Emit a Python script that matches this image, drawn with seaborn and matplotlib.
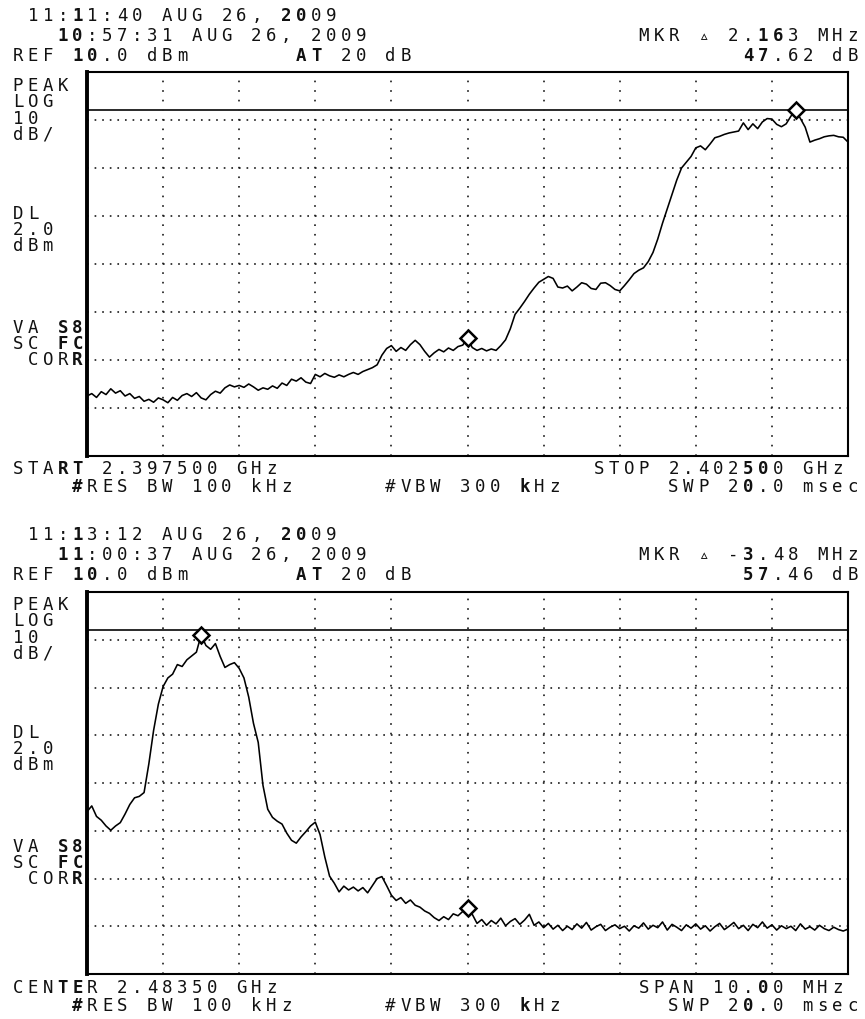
import numpy as np
import matplotlib
matplotlib.use("Agg")
import matplotlib.pyplot as plt
import seaborn as sns

# ---- sweep 1: START 2.397500 GHz, STOP 2.402500 GHz (values in MHz / dBm)
top_start, top_stop = 2397.5, 2402.5
top_trace = [
    -57.5, -57.0, -57.8, -56.6, -57.2, -56.0, -56.9, -56.4, -57.5, -57.0, -58.0, -57.6, -58.6, -58.2, -58.8, -57.9,
    -58.3, -58.9, -57.8, -58.4, -57.4, -57.0, -57.6, -56.8, -57.9, -58.3, -57.2, -56.5, -56.9, -55.8, -55.2, -55.6,
    -55.3, -55.7, -55.0, -55.6, -56.3, -55.8, -56.1, -55.4, -55.9, -54.8, -55.3, -54.0, -54.4, -53.7, -54.6, -54.9,
    -53.0, -53.5, -52.8, -53.3, -53.6, -53.1, -53.5, -53.0, -52.6, -53.0, -52.4, -52.0, -51.6, -51.0, -49.0, -47.6,
    -47.0, -48.2, -47.4, -48.0, -46.8, -45.9, -46.8, -48.2, -49.4, -48.5, -47.8, -48.3, -47.5, -48.0, -47.2, -46.9,
    -45.5, -47.4, -48.0, -47.6, -48.1, -47.7, -48.0, -47.0, -45.8, -43.5, -40.5, -39.2, -37.8, -36.3, -35.0, -33.8,
    -33.2, -32.6, -33.0, -34.8, -35.0, -34.6, -35.6, -34.8, -33.9, -34.2, -35.1, -35.3, -34.0, -33.9, -34.5, -35.3,
    -35.6, -34.5, -33.3, -32.0, -31.3, -30.8, -29.5, -27.6, -24.8, -21.5, -18.5, -15.5, -12.5, -10.0, -8.8, -7.6,
    -5.8, -5.4, -6.2, -5.0, -3.7, -3.4, -3.0, -2.7, -2.5, -2.3, -0.6, -2.0, -0.8, -1.8, -0.4, 0.3,
    0.2, -0.9, -1.4, -0.8, 0.8, 2.0, 0.3, -1.5, -4.6, -4.2, -3.9, -3.5, -3.3, -3.2, -3.5, -3.6,
    -4.6,
]
top_markers = [80, 149]

# ---- sweep 2: CENTER 2.48350 GHz, SPAN 10.00 MHz
bot_start, bot_stop = 2478.5, 2488.5
bot_trace = [
    -36.0, -34.8, -37.0, -37.8, -39.0, -39.9, -39.0, -38.3, -36.5, -34.5, -33.1, -32.8, -32.0, -26.0, -19.0, -13.5,
    -9.8, -8.0, -7.2, -5.2, -5.6, -4.2, -3.4, -2.6, 1.0, -1.2, -2.0, -0.8, -3.5, -5.8, -5.2, -4.8,
    -6.0, -8.0, -12.0, -17.5, -21.5, -30.5, -35.5, -37.2, -38.0, -38.6, -40.5, -42.0, -42.6, -41.3, -40.2, -39.0,
    -38.2, -40.8, -45.5, -49.5, -51.0, -52.8, -51.6, -52.4, -51.8, -52.6, -51.9, -53.0, -51.5, -50.0, -49.6, -51.5,
    -53.5, -54.6, -54.0, -55.2, -54.5, -55.6, -56.0, -56.8, -57.3, -58.2, -58.8, -58.0, -58.6, -57.4, -57.8, -56.9,
    -56.2, -57.5, -59.4, -58.6, -59.8, -58.8, -59.5, -58.3, -59.9, -59.0, -58.4, -59.6, -58.7, -57.5, -59.8, -59.1,
    -60.3, -59.4, -60.6, -59.8, -60.9, -60.0, -60.7, -59.5, -60.4, -59.2, -60.8, -60.1, -59.6, -60.9, -60.2, -59.7,
    -60.5, -60.0, -61.0, -59.9, -60.4, -59.3, -60.6, -59.8, -60.3, -59.1, -60.8, -59.6, -60.2, -60.9, -59.7, -60.4,
    -59.5, -60.6, -59.9, -61.0, -60.1, -59.4, -60.7, -60.0, -59.2, -60.5, -59.8, -60.9, -59.6, -60.3, -59.1, -60.4,
    -59.7, -60.8, -59.9, -60.5, -60.0, -60.9, -59.5, -60.6, -60.1, -60.8, -59.8, -60.5, -60.9, -60.2, -60.7, -61.0,
    -60.6,
]
bot_markers = [24, 80]

ref_level = 10.0
display_line = 2.0
db_per_div = 10

# ---- screen annotations (text, and which characters the plotter printed heavier)
top_date1 = (" 11:11:40 AUG 26, 2009", [4, 18, 19])
top_date2 = ("10:57:31 AUG 26, 2009", [0, 1])
top_mkr_f = ("MKR \u25b5 2.163 MHz", [8, 9])
top_mkr_a = ("47.62 dB", [0, 1])
top_x1 = ("START 2.397500 GHz", [3, 4])
top_x2 = ("STOP 2.402500 GHz", [10, 11])

bot_date1 = (" 11:13:12 AUG 26, 2009", [4, 18, 19])
bot_date2 = ("11:00:37 AUG 26, 2009", [0, 1])
bot_mkr_f = ("MKR \u25b5 -3.48 MHz", [7])
bot_mkr_a = ("57.46 dB", [0, 1])
bot_x1 = ("CENTER 2.48350 GHz", [3, 4])
bot_x2 = ("SPAN 10.00 MHz", [8])

ref_txt = ("REF 10.0 dBm", [4, 5])
att_txt = ("AT 20 dB", [0, 1])
rbw_txt = ("#RES BW 100 kHz", [0])
vbw_txt = ("#VBW 300 kHz", [9])
swp_txt = ("SWP 20.0 msec", [5])
side_labels = ["PEAK", "LOG", "10", "dB/"]
dl_labels = ["DL", "2.0", "dBm"]
corr_labels = [("VA S8", [3, 4]), ("SC FC", [3, 4]), (" CORR", [4])]

W, H = 865, 1019
PITCH = 14.9
X0 = 18.0

sns.set_style("white")
plt.rcParams["lines.scale_dashes"] = False
plt.rcParams["font.family"] = ["DejaVu Sans Mono", "DejaVu Sans"]

fig = plt.figure(figsize=(W / 100, H / 100), dpi=100)


def put(col, y, item):
    # place characters on the analyzer's fixed character grid
    s, heavy = item if isinstance(item, tuple) else (item, [])
    for k, ch in enumerate(s):
        if ch == " ":
            continue
        fig.text((X0 + (col + k) * PITCH) / W, 1 - (y + 6) / H, ch,
                 ha="center", va="baseline", fontsize=12.5,
                 family=["DejaVu Sans Mono", "DejaVu Sans"],
                 fontweight="bold" if k in heavy else "normal", color="#111111")


def panel(top_px, bot_px, start, stop, trace, markers):
    left, right = 87, 848
    ax = fig.add_axes([left / W, 1 - bot_px / H, (right - left) / W, (bot_px - top_px) / H])
    freqs = np.linspace(start, stop, len(trace))
    amp = np.array(trace)
    sns.lineplot(x=freqs, y=amp, ax=ax, color="black", linewidth=1.15,
                 estimator=None, zorder=3)
    ax.plot(freqs[markers], amp[markers], linestyle="none", marker="D", ms=8.5,
            mfc="white", mec="black", mew=1.8, zorder=4)
    ax.axhline(display_line, color="#2a2a2a", lw=1.4, zorder=2)
    ax.set_xlim(start, stop)
    ax.set_ylim(ref_level - 8 * db_per_div, ref_level)
    ax.set_xticks(np.linspace(start, stop, 11)[1:-1])
    ax.set_yticks(np.arange(ref_level - 7 * db_per_div, ref_level - db_per_div + 1, db_per_div))
    ax.grid(axis="x", color="#1a1a1a", lw=1.2, linestyle=(0, (1.2, 5.7)))
    ax.grid(axis="y", color="#1a1a1a", lw=1.2, linestyle=(0, (1.2, 4.27)))
    ax.tick_params(length=0, labelbottom=False, labelleft=False)
    ax.set_xlabel("")
    ax.set_ylabel("")
    for side in ["top", "right", "bottom"]:
        ax.spines[side].set_linewidth(1.5)
        ax.spines[side].set_color("black")
    ax.spines["left"].set_linewidth(2.8)
    ax.spines["left"].set_color("black")
    return ax


def annotate(dy, date1, date2, mkr_f, mkr_a, x1, x2, x2_col):
    put(0, 15 + dy, date1)
    put(3, 35 + dy, date2)
    put(42, 35 + dy, mkr_f)
    put(0, 55 + dy, ref_txt)
    put(19, 55 + dy, att_txt)
    put(49, 55 + dy, mkr_a)
    for k, s in enumerate(side_labels):
        put(0, 85 + dy + 16.3 * k, s)
    for k, s in enumerate(dl_labels):
        put(0, 213 + dy + 16 * k, s)
    for k, s in enumerate(corr_labels):
        put(0, 327 + dy + 16 * k, s)
    put(0, 468 + dy, x1)
    put(x2_col, 468 + dy, x2)
    put(4, 486 + dy, rbw_txt)
    put(25, 486 + dy, vbw_txt)
    put(44, 486 + dy, swp_txt)


panel(72, 456, top_start, top_stop, top_trace, top_markers)
panel(592, 974, bot_start, bot_stop, bot_trace, bot_markers)

annotate(0, top_date1, top_date2, top_mkr_f, top_mkr_a, top_x1, top_x2, 39)
annotate(519, bot_date1, bot_date2, bot_mkr_f, bot_mkr_a, bot_x1, bot_x2, 42)

fig.savefig("out.png", dpi=100)
